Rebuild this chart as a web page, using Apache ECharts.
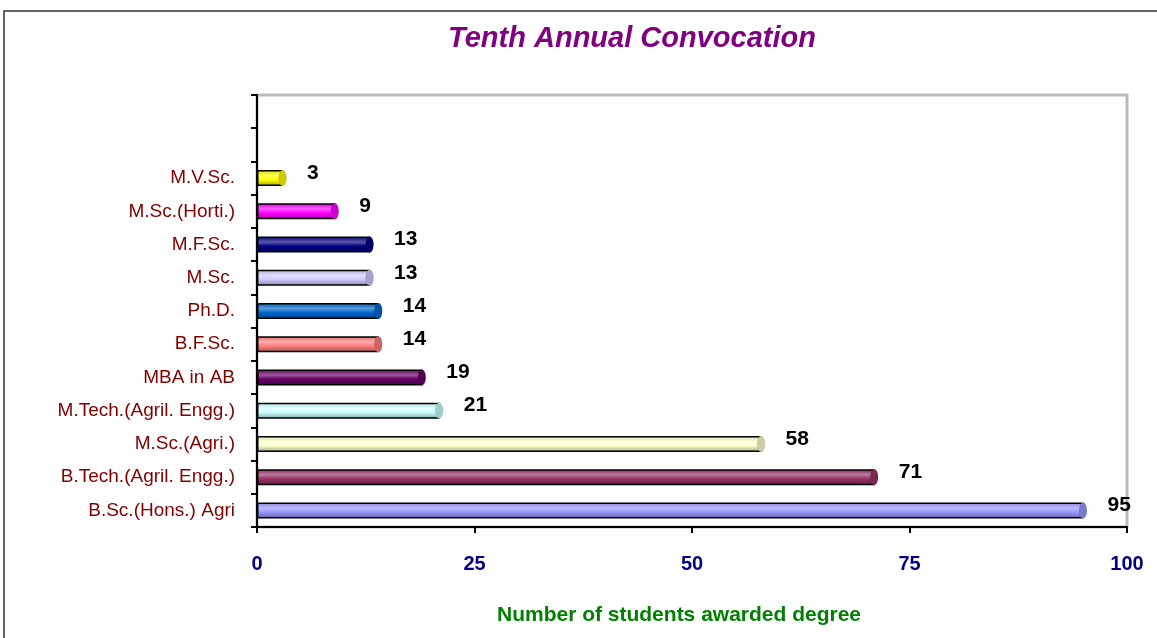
<!DOCTYPE html>
<html><head><meta charset="utf-8">
<script src="https://cdn.jsdelivr.net/npm/echarts@6/dist/echarts.min.js"></script>
<style>html,body{margin:0;padding:0;background:#fff}#c{width:1157px;height:638px}</style>
</head><body><div id="c"></div>
<script>
const categories = ['B.Sc.(Hons.) Agri','B.Tech.(Agril. Engg.)','M.Sc.(Agri.)','M.Tech.(Agril. Engg.)','MBA in AB','B.F.Sc.','Ph.D.','M.Sc.','M.F.Sc.','M.Sc.(Horti.)','M.V.Sc.','',''];
const values = [95,71,58,21,19,14,14,13,13,9,3,null,null];
const colors = ['#9999FF','#993366','#FFFFCC','#CCFFFF','#660066','#FF8080','#0066CC','#CCCCFF','#000080','#FF00FF','#FFFF00','#fff','#fff'];
const xTicks = [0,25,50,75,100];

function shade(hex, f){
  const n=parseInt(hex.slice(1),16);let r=n>>16,g=(n>>8)&255,b=n&255;
  if(f>0){r=r+(255-r)*f;g=g+(255-g)*f;b=b+(255-b)*f;}else{r=r*(1+f);g=g*(1+f);b=b*(1+f);}
  return 'rgb('+Math.round(r)+','+Math.round(g)+','+Math.round(b)+')';
}
function grad(c){
  return new echarts.graphic.LinearGradient(0,0,0,1,[
    {offset:0,color:shade(c,-0.15)},{offset:0.35,color:shade(c,0.35)},{offset:0.6,color:c},{offset:1,color:shade(c,-0.35)}]);
}
const FF = 'Liberation Sans, Arial, sans-serif';
const barData = values.map((v,i)=>({value:v==null?'-':v,itemStyle:{color:grad(colors[i])}}));
const capData = values.map((v,i)=>({value:v==null?'-':v,itemStyle:{color:shade(colors[i],-0.2),borderColor:'#000',borderWidth:1.5}}));

const chart = echarts.init(document.getElementById('c'));
chart.setOption({
  animation:false,
  backgroundColor:'#fff',
  title:{text:'Tenth Annual Convocation',left:627,textAlign:'center',top:19,
    textStyle:{color:'#800080',fontSize:29,fontStyle:'italic',fontWeight:'bold',fontFamily:FF}},
  graphic:[{type:'rect',shape:{x:4,y:11,width:1300,height:800},style:{fill:'none',stroke:'#333',lineWidth:1.5},silent:true,z:-10}],
  grid:{left:257,right:30,top:95,bottom:111,show:true,borderColor:'#bbb',borderWidth:3},
  xAxis:{type:'value',min:0,max:100,interval:25,
    name:'Number of students awarded degree',nameLocation:'middle',nameGap:78,
    nameTextStyle:{color:'#008000',fontSize:21,fontWeight:'bold',fontFamily:FF,padding:[0,26,0,0]},
    axisLine:{show:true,lineStyle:{color:'#000',width:2}},
    axisTick:{show:true,length:6,lineStyle:{color:'#000',width:2}},
    splitLine:{show:false},
    axisLabel:{margin:27,color:'#000080',fontSize:20,fontWeight:'bold',fontFamily:FF}},
  yAxis:{type:'category',data:categories,
    axisLine:{show:true,lineStyle:{color:'#000',width:2}},
    axisTick:{show:true,length:6,lineStyle:{color:'#000',width:2}},
    axisLabel:{margin:22,color:'#800000',fontSize:19,fontFamily:FF}},
  series:[
    {type:'bar',data:barData,barWidth:16,
      itemStyle:{borderColor:'#000',borderWidth:1.5},
      label:{show:true,position:'right',distance:24,offset:[0,-5],color:'#000',fontSize:21,fontWeight:'bold',fontFamily:FF}},
    {type:'pictorialBar',data:capData,symbol:'circle',symbolSize:[8,16],symbolPosition:'end',symbolOffset:['50%',0],
      barGap:'-100%',z:3}
  ]
});
</script></body></html>
